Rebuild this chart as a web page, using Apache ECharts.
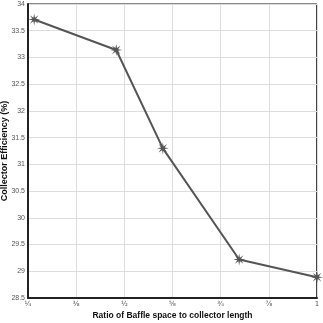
<!DOCTYPE html>
<html>
<head>
<meta charset="utf-8">
<script src="https://cdn.jsdelivr.net/npm/echarts@6/dist/echarts.min.js"></script>
<style>
  html, body { margin: 0; padding: 0; background: #fff; }
  #chart { width: 323px; height: 323px; }
</style>
</head>
<body>
<div id="chart"></div>
<script>
// ratio of baffle space / collector length vs efficiency
const ratios = [0.266, 0.479, 0.600, 0.798, 1.0];
const efficiency = [33.71, 33.14, 31.3, 29.22, 28.89];
const xTickValues = [0.25, 0.375, 0.5, 0.625, 0.75, 0.875, 1];
const xTickLabels = ['¼', '⅜', '½', '⅝', '¾', '⅞', '1'];

// 8 pointed asterisk marker
function starPath(n, rOut, rIn) {
    let d = '';
    for (let i = 0; i < n * 2; i++) {
        const r = i % 2 === 0 ? rOut : rIn;
        const a = Math.PI * i / n - Math.PI / 2;
        d += (i === 0 ? 'M' : 'L') + (r * Math.cos(a)).toFixed(2) + ' ' + (r * Math.sin(a)).toFixed(2);
    }
    return 'path://' + d + 'Z';
}

const chart = echarts.init(document.getElementById('chart'));

chart.setOption({
    animation: false,
    grid: { left: 28, right: 6, top: 4, bottom: 25, outerBoundsMode: 'none', containLabel: false },
    xAxis: {
        type: 'value',
        min: 0.25,
        max: 1,
        interval: 0.125,
        name: 'Ratio of Baffle space to collector length',
        nameLocation: 'middle',
        nameGap: 13,
        nameMoveOverlap: false,
        nameTextStyle: { fontFamily: 'Liberation Sans', fontWeight: 'bold', fontSize: 8.5, color: '#111' },
        axisLine: { onZero: false, lineStyle: { color: '#222', width: 2 } },
        axisTick: { show: false },
        axisLabel: {
            fontFamily: 'DejaVu Sans', fontSize: 7, color: '#555', margin: 3,
            formatter: function (v) {
                const i = xTickValues.findIndex(t => Math.abs(t - v) < 1e-6);
                return i >= 0 ? xTickLabels[i] : '';
            }
        },
        splitLine: { show: true, lineStyle: { color: '#ddd', width: 1 } }
    },
    yAxis: {
        type: 'value',
        min: 28.5,
        max: 34,
        interval: 0.5,
        name: 'Collector Efficiency (%)',
        nameLocation: 'middle',
        nameGap: 19,
        nameMoveOverlap: false,
        nameTextStyle: { fontFamily: 'Liberation Sans', fontWeight: 'bold', fontSize: 9, color: '#111' },
        axisLine: { show: true, lineStyle: { color: '#222', width: 2 } },
        axisTick: { show: false },
        axisLabel: { fontFamily: 'Liberation Sans', fontSize: 7, color: '#555', margin: 3 },
        splitLine: { show: true, lineStyle: { color: '#ddd', width: 1 } }
    },
    series: [{
        type: 'line',
        data: ratios.map((x, i) => [x, efficiency[i]]),
        symbol: starPath(8, 6, 2),
        symbolSize: 12,
        lineStyle: { color: '#555', width: 2 },
        itemStyle: { color: '#555' }
    }],
    graphic: [
        { type: 'rect', shape: { x: 28, y: 3, width: 289, height: 2 }, style: { fill: '#888' } },
        { type: 'rect', shape: { x: 316, y: 4, width: 1, height: 294 }, style: { fill: '#444' } }
    ]
});
</script>
</body>
</html>
